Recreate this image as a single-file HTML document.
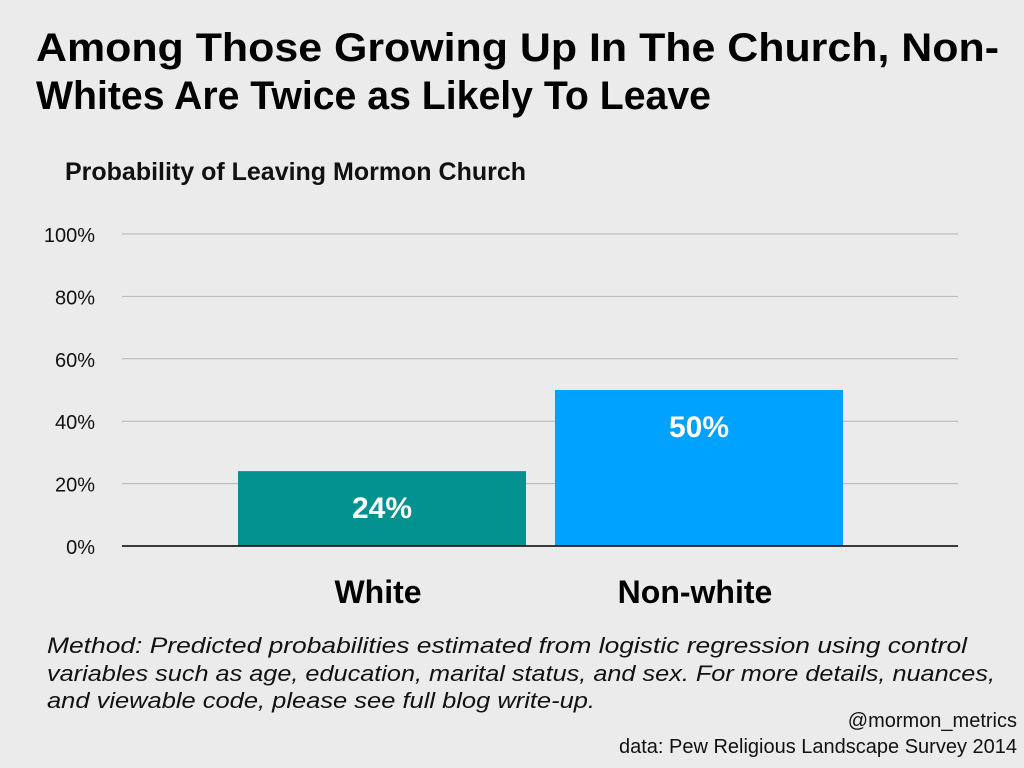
<!DOCTYPE html>
<html><head><meta charset="utf-8"><style>
html,body{margin:0;padding:0;background:#ebebeb;}
svg{display:block;font-family:"Liberation Sans",sans-serif;}
</style></head><body>
<svg id="chart" width="1024" height="768" viewBox="0 0 1024 768">
<rect width="1024" height="768" fill="#ebebeb"/>
<text x="36" y="61" font-size="40" font-weight="bold" fill="#000" textLength="963" lengthAdjust="spacingAndGlyphs">Among Those Growing Up In The Church, Non-</text>
<text x="36" y="109" font-size="40" font-weight="bold" fill="#000" textLength="675" lengthAdjust="spacingAndGlyphs">Whites Are Twice as Likely To Leave</text>
<text x="65" y="180" font-size="25" font-weight="bold" fill="#111" textLength="461" lengthAdjust="spacingAndGlyphs">Probability of Leaving Mormon Church</text>
<g id="grid"></g><g id="bars"></g>
<line x1="122" y1="546" x2="958" y2="546" stroke="#000" stroke-width="1.5"/>
<text x="47" y="653" font-size="22" font-style="italic" fill="#111" textLength="920" lengthAdjust="spacingAndGlyphs">Method: Predicted probabilities estimated from logistic regression using control</text>
<text x="47" y="681" font-size="22" font-style="italic" fill="#111" textLength="948" lengthAdjust="spacingAndGlyphs">variables such as age, education, marital status, and sex. For more details, nuances,</text>
<text x="47" y="708" font-size="22" font-style="italic" fill="#111" textLength="548" lengthAdjust="spacingAndGlyphs">and viewable code, please see full blog write-up.</text>
<text x="1017" y="727" font-size="20" fill="#111" text-anchor="end">@mormon_metrics</text>
<text x="1017" y="753" font-size="20" fill="#111" text-anchor="end">data: Pew Religious Landscape Survey 2014</text>
</svg>
<script>
const categories = ["White", "Non-white"];
const values = [24, 50];
const valueLabels = ["24%", "50%"];
const ticks = [0, 20, 40, 60, 80, 100];
const tickLabels = ["0%", "20%", "40%", "60%", "80%", "100%"];
const colors = ["#03928f", "#00a2ff"];
const NS = "http://www.w3.org/2000/svg";
const y = v => 546 - v * 3.12;
const x0 = 238, step = 317, bw = 288;
const grid = document.getElementById("grid"), bars = document.getElementById("bars");
ticks.forEach((t, i) => {
  if (t > 0) {
    const l = document.createElementNS(NS, "line");
    l.setAttribute("x1", 122); l.setAttribute("x2", 958);
    l.setAttribute("y1", y(t)); l.setAttribute("y2", y(t));
    l.setAttribute("stroke", "#b5b5b5"); l.setAttribute("stroke-width", "1");
    
    
    grid.appendChild(l);
  }
  const tx = document.createElementNS(NS, "text");
  tx.setAttribute("x", 95); tx.setAttribute("y", y(t) + 8);
  tx.setAttribute("text-anchor", "end"); tx.setAttribute("font-size", "20"); tx.setAttribute("fill", "#111");
  tx.textContent = tickLabels[i];
  
  
  grid.appendChild(tx);
});
categories.forEach((c, i) => {
  const bx = x0 + i * step;
  const r = document.createElementNS(NS, "rect");
  r.setAttribute("x", bx); r.setAttribute("y", y(values[i]));
  r.setAttribute("width", bw); r.setAttribute("height", 546 - y(values[i]));
  r.setAttribute("fill", colors[i]);
  
  
  bars.appendChild(r);
  const vl = document.createElementNS(NS, "text");
  vl.setAttribute("x", bx + bw / 2); vl.setAttribute("y", y(values[i]) + 47);
  vl.setAttribute("text-anchor", "middle"); vl.setAttribute("font-size", "30");
  vl.setAttribute("font-weight", "bold"); vl.setAttribute("fill", "#fff");
  vl.textContent = valueLabels[i];
  
  
  bars.appendChild(vl);
  const cl = document.createElementNS(NS, "text");
  cl.setAttribute("x", bx + bw / 2 - 4); cl.setAttribute("y", 603);
  cl.setAttribute("text-anchor", "middle"); cl.setAttribute("font-size", "32");
  cl.setAttribute("font-weight", "bold"); cl.setAttribute("fill", "#000");
  cl.textContent = c;
  
  
  bars.appendChild(cl);
});
</script>
</body></html>
